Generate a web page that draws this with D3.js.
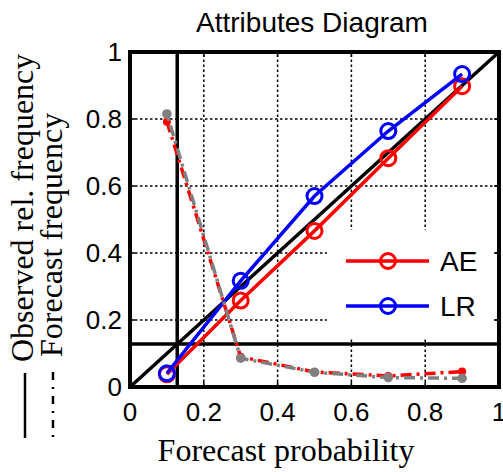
<!DOCTYPE html>
<html><head><meta charset="utf-8">
<script src="https://cdn.jsdelivr.net/npm/d3@7"></script>
<style>body{margin:0;background:#fff}svg{display:block}</style>
</head><body>
<svg id="c" width="503" height="472"></svg>
<script>
const probs = [0.1, 0.3, 0.5, 0.7, 0.9];
const aeObs = [0.038, 0.258, 0.466, 0.683, 0.898];
const lrObs = [0.041, 0.317, 0.570, 0.764, 0.934];
const aeFreq = [0.792, 0.090, 0.045, 0.033, 0.046];
const greyFreq = [0.815, 0.086, 0.044, 0.028, 0.026];
const climatology = 0.128;
const ticks = [0, 0.2, 0.4, 0.6, 0.8, 1];
const gridVals = [0.2, 0.4, 0.6, 0.8];
const legendNames = ["AE", "LR"];
const titleText = "Attributes Diagram";
const xLabel = "Forecast probability";
const yLabel1 = "Observed rel. frequency";
const yLabel2 = "Forecast frequency";

const svg = d3.select("#c");
const L = 130, R = 499, T = 52, B = 387;
const x = d3.scaleLinear().domain([0, 1]).range([L, R]);
const y = d3.scaleLinear().domain([0, 1]).range([B, T]);
const sans = "'Liberation Sans', Arial, sans-serif";
const serif = "'Liberation Serif', 'Times New Roman', serif";

// grid
const grid = svg.append("g").attr("stroke", "#000").attr("stroke-width", 1.5).attr("stroke-dasharray", "2.5,2.5");
grid.selectAll(".gx").data(gridVals).join("line")
  .attr("x1", d => x(d)).attr("x2", d => x(d)).attr("y1", B).attr("y2", T);
grid.selectAll(".gy").data(gridVals).join("line")
  .attr("y1", d => y(d)).attr("y2", d => y(d)).attr("x1", L).attr("x2", R);

// inside ticks on all sides
const tk = 5;
const tg = svg.append("g").attr("stroke", "#000").attr("stroke-width", 1.5);
ticks.forEach(t => {
  tg.append("line").attr("x1", x(t)).attr("x2", x(t)).attr("y1", B).attr("y2", B - tk);
  tg.append("line").attr("x1", x(t)).attr("x2", x(t)).attr("y1", T).attr("y2", T + tk);
  tg.append("line").attr("y1", y(t)).attr("y2", y(t)).attr("x1", L).attr("x2", L + tk);
  tg.append("line").attr("y1", y(t)).attr("y2", y(t)).attr("x1", R).attr("x2", R - tk);
});

// climatology lines and diagonal
svg.append("line").attr("x1", x(climatology)).attr("x2", x(climatology)).attr("y1", B).attr("y2", T)
  .attr("stroke", "#000").attr("stroke-width", 3.5);
svg.append("line").attr("y1", y(climatology)).attr("y2", y(climatology)).attr("x1", L).attr("x2", R)
  .attr("stroke", "#000").attr("stroke-width", 3.5);
svg.append("line").attr("x1", x(0)).attr("y1", y(0)).attr("x2", x(1)).attr("y2", y(1))
  .attr("stroke", "#000").attr("stroke-width", 3.5);

const line = d3.line().x(d => x(d[0])).y(d => y(d[1]));

// reliability curves
function relCurve(vals, color) {
  const pts = probs.map((p, i) => [p, vals[i]]);
  svg.append("path").attr("d", line(pts)).attr("fill", "none").attr("stroke", color).attr("stroke-width", 3.5);
  svg.append("g").selectAll("circle").data(pts).join("circle")
    .attr("cx", d => x(d[0])).attr("cy", d => y(d[1])).attr("r", 7.5)
    .attr("fill", "none").attr("stroke", color).attr("stroke-width", 3);
}
relCurve(aeObs, "#ff0000");
relCurve(lrObs, "#0000ff");

// forecast frequency curves
function freqCurve(vals, color, r, offset) {
  const pts = probs.map((p, i) => [p, vals[i]]);
  svg.append("path").attr("d", line(pts)).attr("fill", "none").attr("stroke", color)
    .attr("stroke-width", 3.5).attr("stroke-dasharray", "11,5,3,5").attr("stroke-dashoffset", offset);
  svg.append("g").selectAll("circle").data(pts).join("circle")
    .attr("cx", d => x(d[0])).attr("cy", d => y(d[1])).attr("r", r).attr("fill", color);
}
freqCurve(aeFreq, "#ff0000", 4, 0);
freqCurve(greyFreq, "#808080", 4.8, 12);

// axes box
svg.append("rect").attr("x", L).attr("y", T).attr("width", R - L).attr("height", B - T)
  .attr("fill", "none").attr("stroke", "#000").attr("stroke-width", 4);

// legend
svg.append("rect").attr("x", 327).attr("y", 230).attr("width", 166).attr("height", 108).attr("fill", "#fff");
const legColors = ["#ff0000", "#0000ff"];
legendNames.forEach((n, i) => {
  const ly = 261 + i * 45;
  svg.append("line").attr("x1", 346).attr("x2", 429).attr("y1", ly).attr("y2", ly)
    .attr("stroke", legColors[i]).attr("stroke-width", 3.5);
  svg.append("circle").attr("cx", 388).attr("cy", ly).attr("r", 7.5)
    .attr("fill", "none").attr("stroke", legColors[i]).attr("stroke-width", 3);
  svg.append("text").attr("x", 440).attr("y", ly + 10).text(n)
    .attr("font-family", sans).attr("font-size", 28).attr("fill", "#000");
});

// tick labels
svg.append("g").selectAll("text").data(ticks).join("text")
  .attr("x", d => x(d)).attr("y", 421).attr("text-anchor", "middle")
  .attr("font-family", sans).attr("font-size", 26).text(d => d3.format("~g")(d));
svg.append("g").selectAll("text").data(ticks).join("text")
  .attr("x", 122).attr("y", d => y(d) + 9).attr("text-anchor", "end")
  .attr("font-family", sans).attr("font-size", 26).text(d => d3.format("~g")(d));

// title
svg.append("text").attr("x", 312).attr("y", 32).attr("text-anchor", "middle")
  .attr("font-family", sans).attr("font-size", 28).text(titleText);

// x label
svg.append("text").attr("x", 286).attr("y", 461).attr("text-anchor", "middle")
  .attr("font-family", serif).attr("font-size", 32).text(xLabel);

// y labels with line-style symbols
svg.append("line").attr("x1", 25).attr("x2", 25).attr("y1", 373).attr("y2", 438)
  .attr("stroke", "#000").attr("stroke-width", 2.5);
svg.append("line").attr("x1", 53).attr("x2", 53).attr("y1", 372).attr("y2", 438)
  .attr("stroke", "#000").attr("stroke-width", 2.5).attr("stroke-dasharray", "8,7,2,7");
svg.append("text").attr("transform", "translate(33,362) rotate(-90)")
  .attr("font-family", serif).attr("font-size", 32).text(yLabel1);
svg.append("text").attr("transform", "translate(62,357) rotate(-90)")
  .attr("font-family", serif).attr("font-size", 32).text(yLabel2);
</script>
</body></html>
